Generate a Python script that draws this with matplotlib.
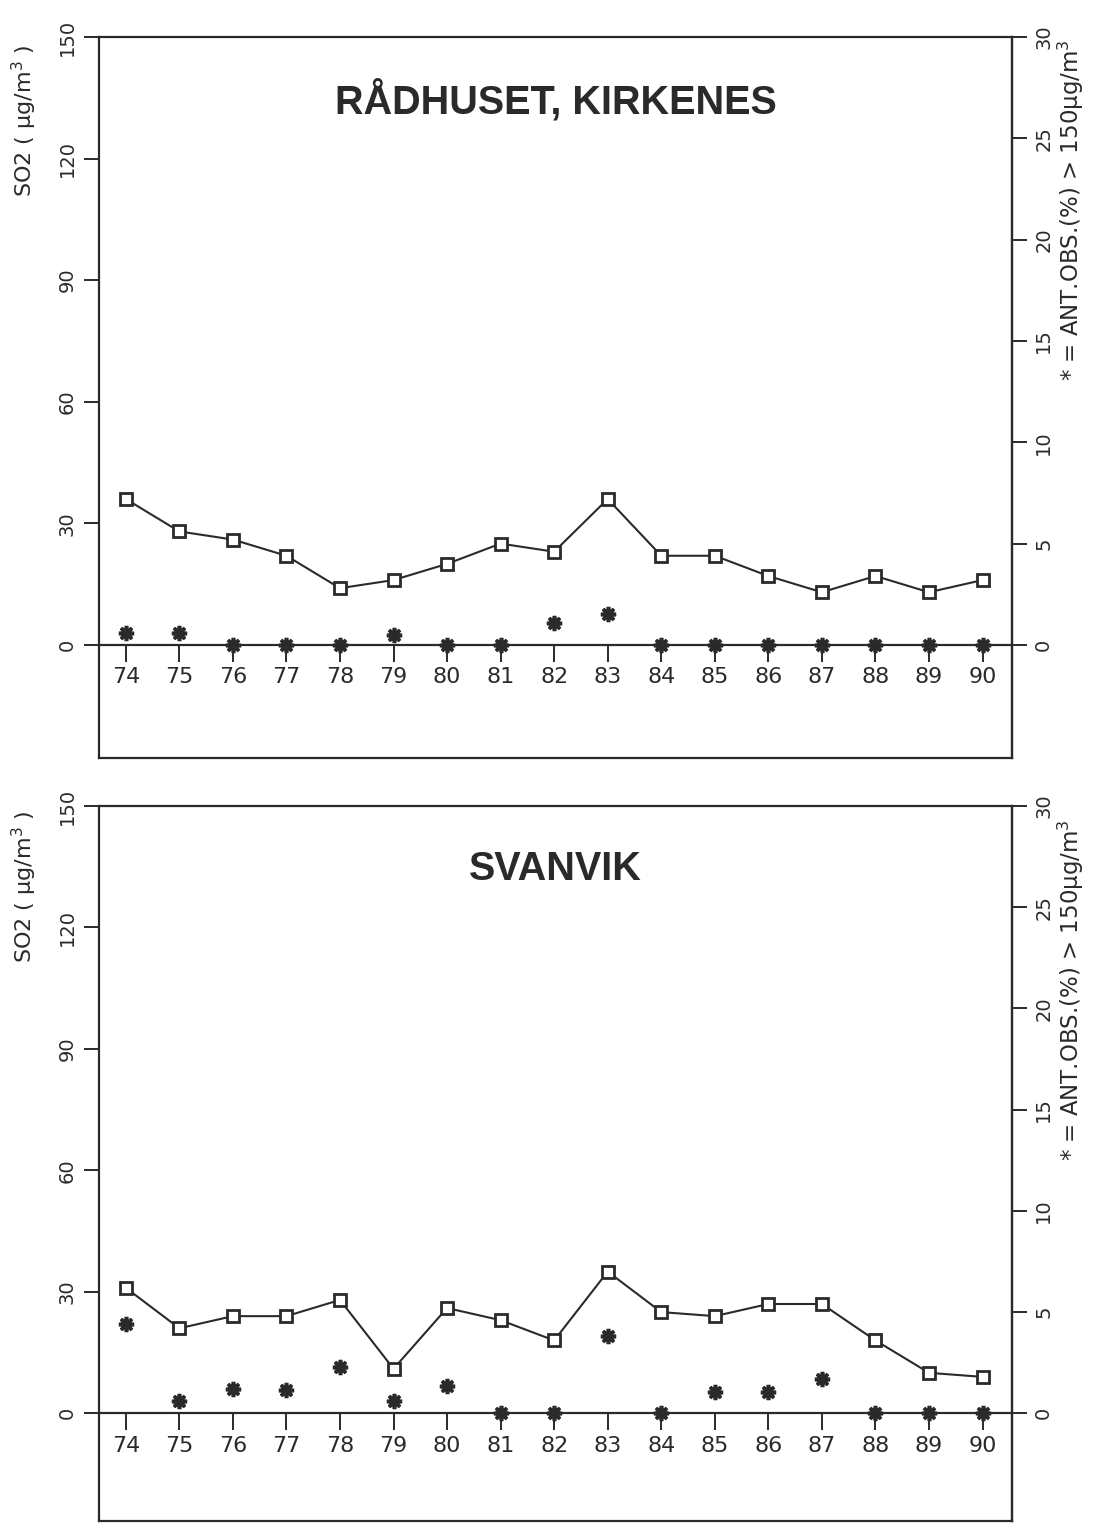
import matplotlib
matplotlib.use("Agg")
import matplotlib.pyplot as plt

# years on the x axis
years = list(range(74, 91))
year_labels = [str(y) for y in years]

# Rådhuset, Kirkenes
so2_kirkenes = [36, 28, 26, 22, 14, 16, 20, 25, 23, 36, 22, 22, 17, 13, 17, 13, 16]
obs_kirkenes = [0.6, 0.6, 0, 0, 0, 0.5, 0, 0, 1.1, 1.55, 0, 0, 0, 0, 0, 0, 0]

# Svanvik
so2_svanvik = [31, 21, 24, 24, 28, 11, 26, 23, 18, 35, 25, 24, 27, 27, 18, 10, 9]
obs_svanvik = [4.4, 0.6, 1.2, 1.15, 2.3, 0.6, 1.35, 0, 0, 3.8, 0, 1.05, 1.05, 1.7, 0, 0, 0]

left_ticks = [0, 30, 60, 90, 120, 150]
right_ticks = [0, 5, 10, 15, 20, 25, 30]

INK = "#2a2a2a"
plt.rcParams["font.family"] = ["DejaVu Sans"]


def draw_panel(fig, rect, title, so2, obs, ybottom, label_y, rlabel_y):
    ax = fig.add_axes(rect)
    ax.set_xlim(73.5, 90.55)
    ax.set_ylim(ybottom, 150)

    # x axis sits on y = 0, the frame is closed with a separate line
    ax.spines["bottom"].set_position(("data", 0))
    for s in ax.spines.values():
        s.set_color(INK)
        s.set_linewidth(1.6)
    ax.plot([0, 1], [0, 0], transform=ax.transAxes, color=INK, lw=1.6, clip_on=False)

    ax.set_xticks(years)
    ax.set_xticklabels(year_labels)
    ax.tick_params(axis="x", direction="out", length=12, width=1.4, pad=4,
                   labelsize=16, colors=INK)
    ax.set_yticks(left_ticks)
    ax.tick_params(axis="y", direction="out", length=11, width=1.4, pad=5,
                   labelsize=14, labelrotation=90, colors=INK)
    for t in ax.get_yticklabels():
        t.set_va("center")

    ax.plot(years, so2, color=INK, lw=1.5, marker="s", ms=8.5,
            mfc="white", mec=INK, mew=2.0, zorder=5)

    ax2 = ax.twinx()
    ax2.set_ylim(ybottom / 5.0, 30)
    for name in ["top", "bottom", "left"]:
        ax2.spines[name].set_visible(False)
    ax2.spines["right"].set_color(INK)
    ax2.spines["right"].set_linewidth(1.6)
    ax2.set_yticks(right_ticks)
    ax2.tick_params(axis="y", direction="out", length=11, width=1.4, pad=5,
                    labelsize=14, labelrotation=90, colors=INK)
    for t in ax2.get_yticklabels():
        t.set_va("center")
    ax2.plot(years, obs, ls="none", marker=(8, 2, 0), ms=11, mew=2.6,
             color=INK, zorder=6)

    ax.text(0.5, 0.912, title, transform=ax.transAxes, ha="center", va="center",
            fontsize=28.5, fontweight="bold", family="Liberation Sans", color=INK)

    fig.text(0.022, label_y, "SO2 ( µg/m$^3$ )", rotation=90, ha="center",
             va="center", fontsize=16, color=INK)
    fig.text(0.974, rlabel_y, "* = ANT.OBS.(%) > 150µg/m$^3$", rotation=90,
             ha="center", va="center", fontsize=16.5, color=INK)
    return ax


fig = plt.figure(figsize=(11, 15.23), dpi=100)
fig.patch.set_facecolor("white")

draw_panel(fig, [0.09, 0.5023, 0.83, 0.4734], "RÅDHUSET, KIRKENES",
           so2_kirkenes, obs_kirkenes, -27.9, 0.921, 0.862)
draw_panel(fig, [0.09, 0.0013, 0.83, 0.4695], "SVANVIK",
           so2_svanvik, obs_svanvik, -26.6, 0.4176, 0.35)

fig.savefig("out.png", dpi=100, facecolor="white")
